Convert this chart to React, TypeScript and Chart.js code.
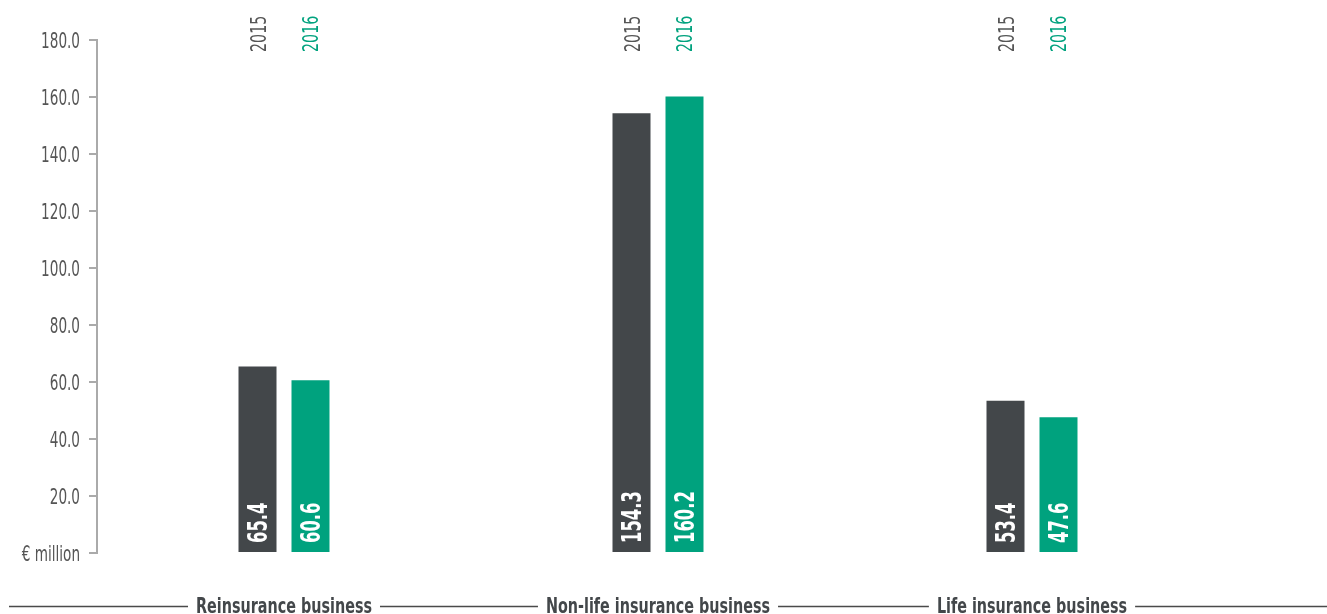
import React, { useEffect, useRef } from "react";
import { Chart, registerables } from "chart.js";

Chart.register(...registerables);

const categories = ["Reinsurance business", "Non-life insurance business", "Life insurance business"];
const years = ["2015", "2016"];
const values2015 = [65.4, 154.3, 53.4];
const values2016 = [60.6, 160.2, 47.6];
const yMin = 0;
const yMax = 180;
const yStep = 20;
const zeroLabel = "€ million";

const DARK = "#43474a";
const GREEN = "#00a27e";
const FONT = "'DejaVu Sans Condensed', 'Liberation Sans Narrow', sans-serif";

function drawCondensed(ctx: any, text: string, x: number, y: number, rot: number, sx: number, align: string, font: string, color: string, capOffset: number) {
  ctx.save();
  ctx.translate(x, y);
  if (rot) ctx.rotate(rot);
  ctx.scale(sx, 1);
  ctx.font = font;
  ctx.fillStyle = color;
  ctx.textAlign = align;
  ctx.textBaseline = "alphabetic";
  ctx.fillText(text, 0, capOffset);
  ctx.restore();
}

const labelsPlugin = {
  id: "customLabels",
  afterDraw(chart: any) {
    const ctx = chart.ctx;
    const yColors = ["#555555", GREEN];
    ctx.save();
    // y tick labels (condensed) at the library's tick positions
    const ys = chart.scales.y;
    ys.ticks.forEach((t: any) => {
      const py = ys.getPixelForValue(t.value);
      const lab = t.value === 0 ? zeroLabel : Number(t.value).toFixed(1);
      drawCondensed(ctx, lab, 80, py, 0, 0.72, "right", `21px ${FONT}`, "#555555", 7.5);
    });
    chart.data.datasets.forEach((ds: any, di: number) => {
      const meta = chart.getDatasetMeta(di);
      meta.data.forEach((bar: any, i: number) => {
        drawCondensed(ctx, ds.label, bar.x, 52, -Math.PI / 2, 0.72, "left", `22px ${FONT}`, yColors[di], 8);
        drawCondensed(ctx, Number(ds.data[i]).toFixed(1), bar.x, 543, -Math.PI / 2, 0.7, "left", `bold 26px ${FONT}`, "#ffffff", 9.5);
      });
    });
    // bottom category labels with lines
    const xs = chart.scales.x;
    const sx = 0.76;
    const font = `bold 21px ${FONT}`;
    ctx.font = font;
    const lineY = 606.5;
    const gaps: [number, number][] = [];
    chart.data.labels.forEach((lab: string, i: number) => {
      const cx = xs.getPixelForValue(i);
      ctx.font = font;
      const w = ctx.measureText(lab).width * sx;
      drawCondensed(ctx, lab, cx, 605, 0, sx, "center", font, "#43474a", 7.5);
      gaps.push([cx - w / 2 - 8, cx + w / 2 + 8]);
    });
    ctx.strokeStyle = "#4a4a4a";
    ctx.lineWidth = 1.5;
    let start = 9;
    ctx.beginPath();
    gaps.forEach(([a, b]) => {
      ctx.moveTo(start, lineY);
      ctx.lineTo(a, lineY);
      start = b;
    });
    ctx.moveTo(start, lineY);
    ctx.lineTo(1327, lineY);
    ctx.stroke();
    ctx.restore();
  },
};

export default function App() {
  const ref = useRef<HTMLCanvasElement>(null);
  useEffect(() => {
    document.body.style.margin = "0";
    const chart = new Chart(ref.current as HTMLCanvasElement, {
      type: "bar",
      data: {
        labels: categories,
        datasets: [
          { label: years[0], data: values2015, backgroundColor: DARK, categoryPercentage: 0.2834, barPercentage: 0.717 },
          { label: years[1], data: values2016, backgroundColor: GREEN, categoryPercentage: 0.2834, barPercentage: 0.717 },
        ],
      },
      options: {
        animation: false,
        responsive: false,
        maintainAspectRatio: false,
        layout: { padding: { left: 0, right: 108, top: 40, bottom: 61 } },
        plugins: { legend: { display: false }, tooltip: { enabled: false } },
        scales: {
          x: { display: false },
          y: {
            min: yMin,
            max: yMax,
            afterFit: (scale: any) => {
              scale.width = 97;
            },
            ticks: {
              stepSize: yStep,
              padding: 9,
              color: "rgba(0,0,0,0)",
              font: { family: FONT, size: 17 },
              callback: (v: any) => (Number(v) === 0 ? zeroLabel : Number(v).toFixed(1)),
            },
            grid: { drawOnChartArea: false, drawTicks: true, tickLength: 8, color: "#aaaaaa", lineWidth: 2 },
            border: { display: true, color: "#aaaaaa", width: 2 },
          },
        },
      },
      plugins: [labelsPlugin],
    });
    return () => chart.destroy();
  }, []);
  return (
    <div style={{ width: 1327, height: 614 }}>
      <canvas ref={ref} width={1327} height={614} />
    </div>
  );
}
